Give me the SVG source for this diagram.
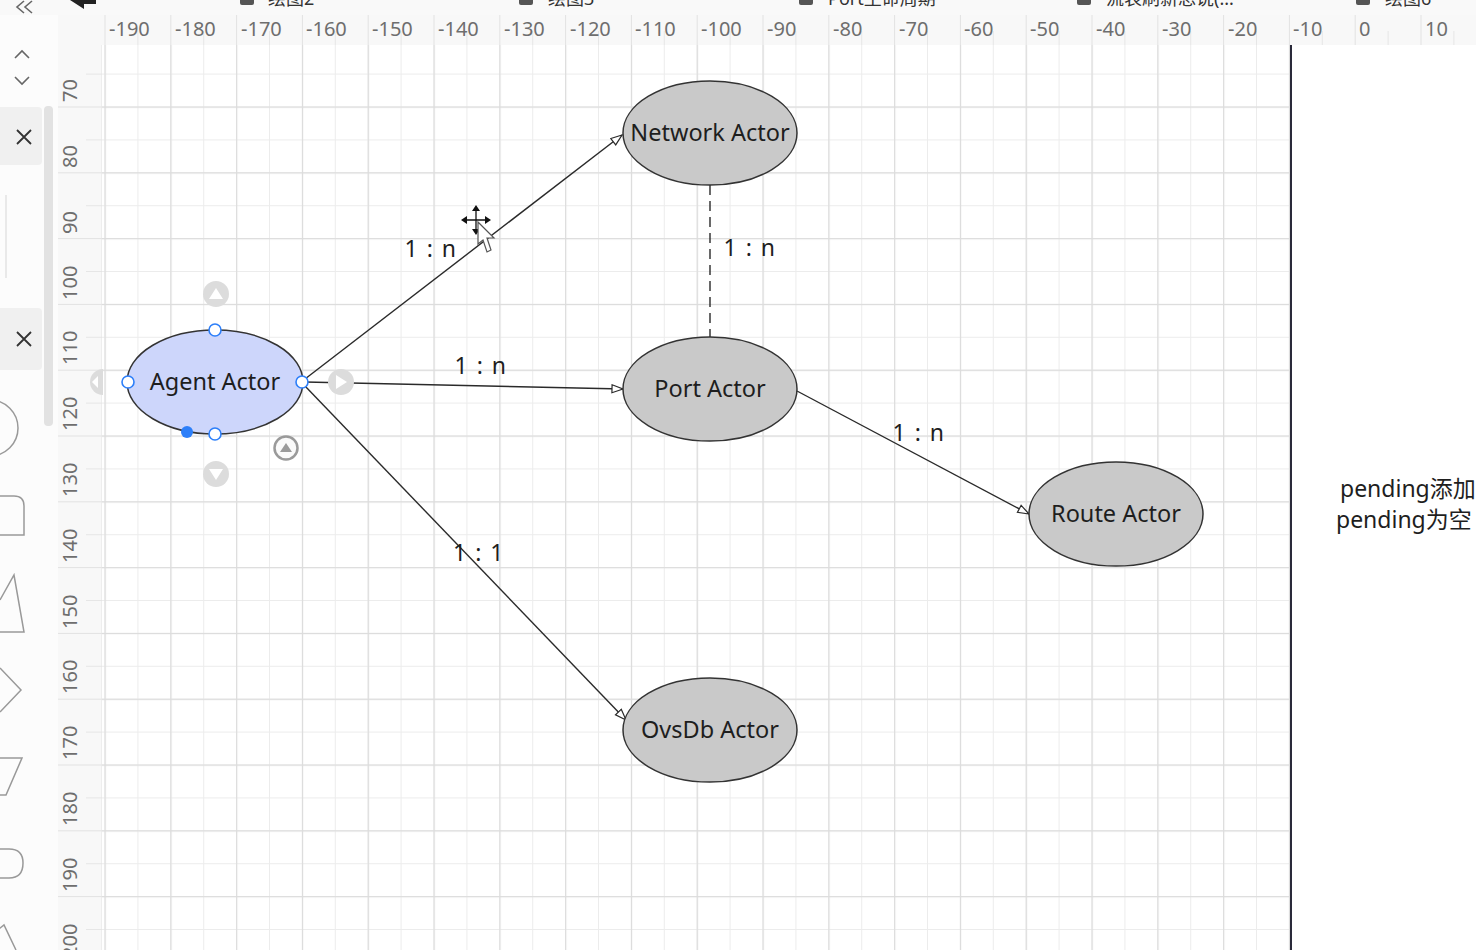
<svg xmlns="http://www.w3.org/2000/svg" width="1476" height="950" viewBox="0 0 1476 950">
<style>
.rl{font-family:"Noto Sans","Open Sans",sans-serif;font-size:20px;fill:#6e6e6e}
.nt{font-family:"Noto Sans","Open Sans",sans-serif;font-size:23.5px;fill:#1e1e1e;text-anchor:middle}
.lb{font-family:"Noto Sans","Open Sans",sans-serif;font-size:23px;fill:#1e1e1e;text-anchor:middle;letter-spacing:1.5px}
.node{fill:#c9c9c9;stroke:#333;stroke-width:1.5}
.con{stroke:#2a2a2a;stroke-width:1.4;fill:none}
.hd{fill:#fff;stroke:#2d7ff9;stroke-width:1.6}
.gb{fill:#dcdcdc}
.tab{font-family:"Noto Sans","Noto Sans CJK SC",sans-serif;font-size:18px;fill:#333}
</style>
<defs>
<pattern id="gMinor" patternUnits="userSpaceOnUse" x="104.5" y="73.6" width="32.9" height="32.9">
<rect x="0" y="0" width="1" height="32.9" fill="#ececec"/>
<rect x="0" y="0" width="32.9" height="1" fill="#ececec"/>
</pattern>
<pattern id="gMajor" patternUnits="userSpaceOnUse" x="104.5" y="106.5" width="65.8" height="65.8">
<rect x="0" y="0" width="1.2" height="65.8" fill="#dcdcdc"/>
<rect x="0" y="0" width="65.8" height="1.2" fill="#dcdcdc"/>
</pattern>
<pattern id="rTop" patternUnits="userSpaceOnUse" x="104.5" y="15" width="65.8" height="30">
<rect x="0" y="0" width="1" height="30" fill="#e2e2e2"/>
<rect x="32.9" y="16" width="1" height="14" fill="#e6e6e6"/>
</pattern>
<pattern id="rLeft" patternUnits="userSpaceOnUse" x="58" y="106.5" width="44" height="65.8">
<rect x="0" y="0" width="44" height="1" fill="#e2e2e2"/>
<rect x="28" y="32.9" width="16" height="1" fill="#e6e6e6"/>
</pattern>
<marker id="arr" markerUnits="userSpaceOnUse" markerWidth="14" markerHeight="11" refX="12" refY="5" orient="auto">
<path d="M1,1 L12,5 L1,9 Z" fill="#fff" stroke="#2a2a2a" stroke-width="1.2"/>
</marker>
</defs>

<!-- background -->
<rect x="0" y="0" width="1476" height="950" fill="#fafafa"/>

<!-- tab bar (cut off at top) -->
<g id="tabbar">
<rect x="0" y="0" width="1476" height="15" fill="#f9f9f9"/>
<path d="M70 0 L96 0 L96 4 L84 4 L84 9 Z" fill="#222"/>
<path d="M24 1 L17 7 L24 13 M32 1 L25 7 L32 13" fill="none" stroke="#666" stroke-width="1.6"/>
<rect x="240" y="-6" width="14" height="11" rx="2" fill="#555"/>
<text class="tab" x="268" y="5">绘图2</text>
<rect x="519" y="-6" width="14" height="11" rx="2" fill="#555"/>
<text class="tab" x="548" y="5">绘图3</text>
<rect x="799" y="-6" width="14" height="11" rx="2" fill="#555"/>
<text class="tab" x="828" y="5">Port生命周期</text>
<rect x="1077" y="-6" width="14" height="11" rx="2" fill="#555"/>
<text class="tab" x="1106" y="5">流表刷新总说(...</text>
<rect x="1356" y="-6" width="14" height="11" rx="2" fill="#555"/>
<text class="tab" x="1385" y="5">绘图6</text>
</g>

<!-- left toolbar -->
<g id="toolbar">
<rect x="0" y="15" width="58" height="935" fill="#fcfcfc"/>
<path d="M15 58 L22 51 L29 58" fill="none" stroke="#666" stroke-width="1.6"/>
<path d="M15 77 L22 84 L29 77" fill="none" stroke="#666" stroke-width="1.6"/>
<rect x="-8" y="107" width="50" height="58" rx="4" fill="#f0f0f0"/>
<path d="M17 130 L31 144 M31 130 L17 144" stroke="#333" stroke-width="1.8"/>
<line x1="6" y1="195" x2="6" y2="278" stroke="#e3e3e3" stroke-width="1.5"/>
<rect x="-8" y="308" width="50" height="62" rx="4" fill="#f0f0f0"/>
<path d="M17 332 L31 346 M31 332 L17 346" stroke="#333" stroke-width="1.8"/>
<rect x="44" y="106" width="9" height="320" rx="4" fill="#e2e2e2"/>
<circle cx="-10" cy="428" r="28" fill="none" stroke="#999" stroke-width="1.5"/>
<path d="M-5 496 H14 Q24 496 24 506 V535 H-5" fill="none" stroke="#999" stroke-width="1.5"/>
<path d="M0 632 H24 L14 575 L0 600" fill="none" stroke="#999" stroke-width="1.5"/>
<path d="M0 668 L21 690 L0 712" fill="none" stroke="#999" stroke-width="1.5"/>
<path d="M-5 758 H22 L6 795 H-5" fill="none" stroke="#999" stroke-width="1.5"/>
<path d="M-5 849 H9 Q23 849 23 863 Q23 878 9 878 H-5" fill="none" stroke="#999" stroke-width="1.5"/>
<path d="M-5 932 L4 925 L16 950" fill="none" stroke="#999" stroke-width="1.5"/>
</g>

<!-- rulers -->
<g id="rulers">
<rect x="58" y="15" width="1418" height="30" fill="#f8f8f8"/>
<rect x="102" y="15" width="1374" height="30" fill="url(#rTop)"/>
<rect x="58" y="45" width="44" height="905" fill="#f8f8f8"/>
<rect x="58" y="45" width="44" height="905" fill="url(#rLeft)"/>
<line x1="102" y1="45" x2="102" y2="950" stroke="#e4e4e4"/>
<text class="rl" x="109" y="36">-190</text>
<text class="rl" x="175" y="36">-180</text>
<text class="rl" x="241" y="36">-170</text>
<text class="rl" x="306" y="36">-160</text>
<text class="rl" x="372" y="36">-150</text>
<text class="rl" x="438" y="36">-140</text>
<text class="rl" x="504" y="36">-130</text>
<text class="rl" x="570" y="36">-120</text>
<text class="rl" x="635" y="36">-110</text>
<text class="rl" x="701" y="36">-100</text>
<text class="rl" x="767" y="36">-90</text>
<text class="rl" x="833" y="36">-80</text>
<text class="rl" x="899" y="36">-70</text>
<text class="rl" x="964" y="36">-60</text>
<text class="rl" x="1030" y="36">-50</text>
<text class="rl" x="1096" y="36">-40</text>
<text class="rl" x="1162" y="36">-30</text>
<text class="rl" x="1228" y="36">-20</text>
<text class="rl" x="1293" y="36">-10</text>
<text class="rl" x="1359" y="36">0</text>
<text class="rl" x="1425" y="36">10</text>
<text class="rl" transform="translate(77,102) rotate(-90)">70</text>
<text class="rl" transform="translate(77,168) rotate(-90)">80</text>
<text class="rl" transform="translate(77,234) rotate(-90)">90</text>
<text class="rl" transform="translate(77,300) rotate(-90)">100</text>
<text class="rl" transform="translate(77,365) rotate(-90)">110</text>
<text class="rl" transform="translate(77,431) rotate(-90)">120</text>
<text class="rl" transform="translate(77,497) rotate(-90)">130</text>
<text class="rl" transform="translate(77,563) rotate(-90)">140</text>
<text class="rl" transform="translate(77,629) rotate(-90)">150</text>
<text class="rl" transform="translate(77,694) rotate(-90)">160</text>
<text class="rl" transform="translate(77,760) rotate(-90)">170</text>
<text class="rl" transform="translate(77,826) rotate(-90)">180</text>
<text class="rl" transform="translate(77,892) rotate(-90)">190</text>
<text class="rl" transform="translate(77,958) rotate(-90)">200</text>
</g>

<!-- canvas -->
<g id="canvas">
<rect x="102" y="45" width="1189" height="905" fill="#fff"/>
<rect x="102" y="45" width="1189" height="905" fill="url(#gMinor)"/>
<rect x="102" y="45" width="1189" height="905" fill="url(#gMajor)"/>
<rect x="1292" y="45" width="184" height="905" fill="#fff"/>
<line x1="1291" y1="45" x2="1291" y2="950" stroke="#2a2a3a" stroke-width="2"/>
</g>

<!-- connectors -->
<g id="connectors">
<line class="con" x1="305" y1="379" x2="622" y2="135" marker-end="url(#arr)"/>
<line class="con" x1="305" y1="382" x2="623" y2="389" marker-end="url(#arr)"/>
<line class="con" x1="305" y1="386" x2="626" y2="720" marker-end="url(#arr)"/>
<line class="con" x1="797" y1="391" x2="1029" y2="514" marker-end="url(#arr)"/>
<line class="con" x1="710" y1="185" x2="710" y2="337" stroke-dasharray="10 6"/>
<text class="lb" x="431" y="257">1 : n</text>
<text class="lb" x="481" y="374">1 : n</text>
<text class="lb" x="479" y="561">1 : 1</text>
<text class="lb" x="919" y="441">1 : n</text>
<text class="lb" x="750" y="256">1 : n</text>
</g>

<!-- nodes -->
<g id="network-actor">
<ellipse class="node" cx="710" cy="133" rx="87" ry="52"/>
<text class="nt" x="710" y="141">Network Actor</text>
</g>
<g id="port-actor">
<ellipse class="node" cx="710" cy="389" rx="87" ry="52"/>
<text class="nt" x="710" y="397">Port Actor</text>
</g>
<g id="route-actor">
<ellipse class="node" cx="1116" cy="514" rx="87" ry="52"/>
<text class="nt" x="1116" y="522">Route Actor</text>
</g>
<g id="ovsdb-actor">
<ellipse class="node" cx="710" cy="730" rx="87" ry="52"/>
<text class="nt" x="710" y="738">OvsDb Actor</text>
</g>
<g id="agent-actor">
<ellipse cx="215" cy="382" rx="88" ry="52" fill="#cdd6fb" stroke="#333" stroke-width="1.5"/>
<text class="nt" x="215" y="390">Agent Actor</text>
</g>

<!-- selection handles -->
<g id="selection">
<circle cx="215" cy="330" r="6" class="hd"/>
<circle cx="128" cy="382" r="6" class="hd"/>
<circle cx="302" cy="382" r="6" class="hd"/>
<circle cx="215" cy="434" r="6" class="hd"/>
<circle cx="187" cy="432" r="6" fill="#2d7ff9"/>
<circle cx="216" cy="294" r="13" class="gb"/>
<path d="M209 299 L216 288 L223 299 Z" fill="#fff"/>
<circle cx="216" cy="474" r="13" class="gb"/>
<path d="M209 469 L216 480 L223 469 Z" fill="#fff"/>
<circle cx="341" cy="382" r="13" class="gb"/>
<path d="M336 375 L347 382 L336 389 Z" fill="#fff"/>
<path d="M103 369 A13 13 0 0 0 103 395 Z" class="gb"/>
<path d="M98 376 L92 382 L98 388 Z" fill="#fff"/>
<circle cx="286" cy="448" r="11.5" fill="#fafafa" stroke="#9a9a9a" stroke-width="2.5"/>
<path d="M280 452 L286 443 L292 452 Z" fill="#9a9a9a"/>
</g>

<!-- cursor -->
<g id="cursor">
<path d="M476 208 V232 M464 220 H488" stroke="#111" stroke-width="1.3"/>
<path d="M476 205 L472 211 H480 Z M476 235 L472 229 H480 Z M461 220 L467 216 V224 Z M491 220 L485 216 V224 Z" fill="#111"/>
<path d="M478 222 L478 244 L483 240 L487 252 L491 250 L487 238 L494 238 Z" fill="#fff" stroke="#555" stroke-width="1.2"/>
</g>

<!-- side text -->
<g id="side-text">
<text x="1340" y="497" font-family="Noto Sans,Noto Sans CJK SC,sans-serif" font-size="23" fill="#1e1e1e">pending添加</text>
<text x="1336" y="528" font-family="Noto Sans,Noto Sans CJK SC,sans-serif" font-size="23" fill="#1e1e1e">pending为空</text>
</g>
</svg>
